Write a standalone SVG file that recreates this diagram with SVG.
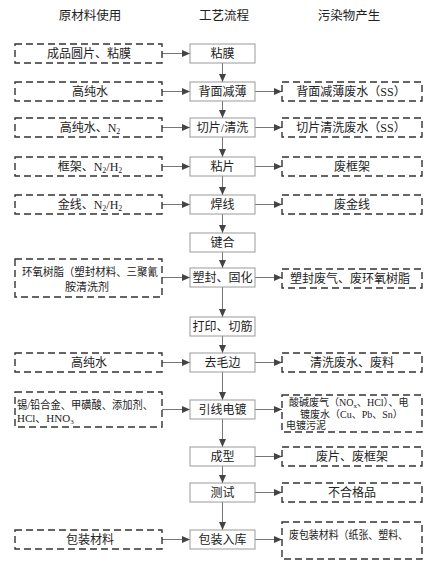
<svg xmlns="http://www.w3.org/2000/svg" width="437" height="570" viewBox="0 0 437 570">
<style>
text{font-family:"Liberation Serif","Noto Sans CJK SC",serif;fill:#222;font-size:12px}
.h{font-size:12.5px}
.c{text-anchor:middle}
.s{font-size:11px}
.t{font-size:10px}
.proc{fill:#fff;stroke:#9a9a9a;stroke-width:1}
.dash{fill:#fff;stroke:#333;stroke-width:1.4;stroke-dasharray:7 4}
.ln{stroke:#777;stroke-width:1;fill:none;marker-end:url(#ah)}
</style>
<defs>
<marker id="ah" viewBox="0 0 8 7" refX="8" refY="3.5" markerWidth="8" markerHeight="7" markerUnits="userSpaceOnUse" orient="auto">
<path d="M0,0 L8,3.5 L0,7 z" fill="#444"/>
</marker>
</defs>
<rect width="437" height="570" fill="#fff"/>
<g id="headers">
<text class="h c" x="90" y="20">原材料使用</text>
<text class="h c" x="224" y="20">工艺流程</text>
<text class="h c" x="349" y="20">污染物产生</text>
</g>
<g id="connectors">
<line class="ln" x1="162" y1="53.5" x2="190" y2="53.5"/>
<line class="ln" x1="222.5" y1="63" x2="222.5" y2="82"/>
<line class="ln" x1="162" y1="91.5" x2="190" y2="91.5"/>
<line class="ln" x1="255" y1="91.5" x2="282" y2="91.5"/>
<line class="ln" x1="222.5" y1="101" x2="222.5" y2="118"/>
<line class="ln" x1="162" y1="127.5" x2="190" y2="127.5"/>
<line class="ln" x1="255" y1="127.5" x2="282" y2="127.5"/>
<line class="ln" x1="222.5" y1="137" x2="222.5" y2="157"/>
<line class="ln" x1="162" y1="166.5" x2="190" y2="166.5"/>
<line class="ln" x1="255" y1="166.5" x2="282" y2="166.5"/>
<line class="ln" x1="222.5" y1="176" x2="222.5" y2="195"/>
<line class="ln" x1="162" y1="204.5" x2="190" y2="204.5"/>
<line class="ln" x1="255" y1="204.5" x2="282" y2="204.5"/>
<line class="ln" x1="222.5" y1="214" x2="222.5" y2="233"/>
<line class="ln" x1="222.5" y1="252" x2="222.5" y2="268"/>
<line class="ln" x1="162" y1="277.5" x2="190" y2="277.5"/>
<line class="ln" x1="255" y1="277.5" x2="282" y2="277.5"/>
<line class="ln" x1="222.5" y1="287" x2="222.5" y2="317"/>
<line class="ln" x1="222.5" y1="336" x2="222.5" y2="353"/>
<line class="ln" x1="162" y1="362.5" x2="190" y2="362.5"/>
<line class="ln" x1="255" y1="362.5" x2="282" y2="362.5"/>
<line class="ln" x1="222.5" y1="372" x2="222.5" y2="400"/>
<line class="ln" x1="162" y1="409.5" x2="190" y2="409.5"/>
<line class="ln" x1="255" y1="409.5" x2="282" y2="409.5"/>
<line class="ln" x1="222.5" y1="419" x2="222.5" y2="447"/>
<line class="ln" x1="255" y1="456.5" x2="282" y2="456.5"/>
<line class="ln" x1="222.5" y1="466" x2="222.5" y2="483"/>
<line class="ln" x1="255" y1="492.5" x2="282" y2="492.5"/>
<line class="ln" x1="222.5" y1="502" x2="222.5" y2="530"/>
<line class="ln" x1="162" y1="539.5" x2="190" y2="539.5"/>
<line class="ln" x1="255" y1="539.5" x2="282" y2="539.5"/>
</g>
<g id="p1"><rect class="proc" x="190" y="44" width="65" height="19"/><text class="c" x="222.5" y="57.5">粘膜</text></g>
<g id="p2"><rect class="proc" x="190" y="82" width="65" height="19"/><text class="c" x="222.5" y="95.5">背面减薄</text></g>
<g id="p3"><rect class="proc" x="190" y="118" width="65" height="19"/><text class="c" x="222.5" y="131.5">切片/清洗</text></g>
<g id="p4"><rect class="proc" x="190" y="157" width="65" height="19"/><text class="c" x="222.5" y="170.5">粘片</text></g>
<g id="p5"><rect class="proc" x="190" y="195" width="65" height="19"/><text class="c" x="222.5" y="208.5">焊线</text></g>
<g id="p6"><rect class="proc" x="190" y="233" width="65" height="19"/><text class="c" x="222.5" y="246.5">键合</text></g>
<g id="p7"><rect class="proc" x="190" y="268" width="65" height="19"/><text class="c" x="222.5" y="281.5">塑封、固化</text></g>
<g id="p8"><rect class="proc" x="190" y="317" width="65" height="19"/><text class="c" x="222.5" y="330.5">打印、切筋</text></g>
<g id="p9"><rect class="proc" x="190" y="353" width="65" height="19"/><text class="c" x="222.5" y="366.5">去毛边</text></g>
<g id="p10"><rect class="proc" x="190" y="400" width="65" height="19"/><text class="c" x="222.5" y="413.5">引线电镀</text></g>
<g id="p11"><rect class="proc" x="190" y="447" width="65" height="19"/><text class="c" x="222.5" y="460.5">成型</text></g>
<g id="p12"><rect class="proc" x="190" y="483" width="65" height="19"/><text class="c" x="222.5" y="496.5">测试</text></g>
<g id="p13"><rect class="proc" x="190" y="530" width="65" height="19"/><text class="c" x="222.5" y="543.5">包装入库</text></g>
<g id="in1"><rect class="dash" x="15" y="44" width="147" height="19"/><text class="c" x="89" y="57.5">成品圆片、粘膜</text></g>
<g id="in2"><rect class="dash" x="15" y="82" width="147" height="19"/><text class="c" x="90" y="95.5">高纯水</text></g>
<g id="in3"><rect class="dash" x="15" y="118" width="147" height="19"/><text class="c" x="90" y="131.5">高纯水、N<tspan font-size="8" dy="2">2</tspan></text></g>
<g id="in4"><rect class="dash" x="15" y="157" width="147" height="19"/><text class="c" x="90" y="170.5">框架、N<tspan font-size="8" dy="2">2</tspan><tspan dy="-2">/H</tspan><tspan font-size="8" dy="2">2</tspan></text></g>
<g id="in5"><rect class="dash" x="15" y="195" width="147" height="19"/><text class="c" x="90" y="208.5">金线、N<tspan font-size="8" dy="2">2</tspan><tspan dy="-2">/H</tspan><tspan font-size="8" dy="2">2</tspan></text></g>
<g id="in7"><rect class="dash" x="15" y="259" width="147" height="38"/><text class="s" x="22" y="276" textLength="136" lengthAdjust="spacingAndGlyphs">环氧树脂（塑封材料、三聚氰</text><text class="s c" x="87" y="291">胺清洗剂</text></g>
<g id="in9"><rect class="dash" x="15" y="353" width="147" height="19"/><text class="c" x="89" y="366.5">高纯水</text></g>
<g id="in10"><rect class="dash" x="15" y="392" width="147" height="35"/><text class="s" x="17" y="409" textLength="136" lengthAdjust="spacingAndGlyphs">锡/铅合金、甲磺酸、添加剂、</text><text class="s" x="17" y="422">HCl、HNO<tspan font-size="7" dy="2">3</tspan></text></g>
<g id="in13"><rect class="dash" x="15" y="530" width="147" height="19"/><text class="c" x="90" y="543.5">包装材料</text></g>
<g id="out2"><rect class="dash" x="282" y="82" width="140" height="19"/><text class="c" x="351" y="95.5">背面减薄废水（SS）</text></g>
<g id="out3"><rect class="dash" x="282" y="118" width="140" height="19"/><text class="c" x="351" y="131.5">切片清洗废水（SS）</text></g>
<g id="out4"><rect class="dash" x="282" y="157" width="140" height="19"/><text class="c" x="352" y="170.5">废框架</text></g>
<g id="out5"><rect class="dash" x="282" y="195" width="140" height="19"/><text class="c" x="352" y="208.5">废金线</text></g>
<g id="out7"><rect class="dash" x="282" y="269" width="140" height="19"/><text class="c" x="350" y="282.5">塑封废气、废环氧树脂</text></g>
<g id="out9"><rect class="dash" x="282" y="353" width="140" height="19"/><text class="c" x="352" y="366.5">清洗废水、废料</text></g>
<g id="out10"><rect class="dash" x="282" y="395" width="140" height="37"/><text class="t" x="289" y="406">酸碱废气（NO<tspan font-size="7" dy="2">x</tspan><tspan dy="-2">、HCl）、电</tspan></text><text class="t" x="300" y="417.5">镀废水（Cu、Pb、Sn）</text><text class="t" x="286" y="429">电镀污泥</text></g>
<g id="out11"><rect class="dash" x="282" y="447" width="140" height="19"/><text class="c" x="352" y="460.5">废片、废框架</text></g>
<g id="out12"><rect class="dash" x="282" y="483" width="140" height="19"/><text class="c" x="352" y="496.5">不合格品</text></g>
<g id="out13"><rect class="dash" x="282" y="522" width="140" height="37"/><text class="s" x="289" y="539" textLength="119" lengthAdjust="spacingAndGlyphs">废包装材料（纸张、塑料、</text></g>
</svg>
